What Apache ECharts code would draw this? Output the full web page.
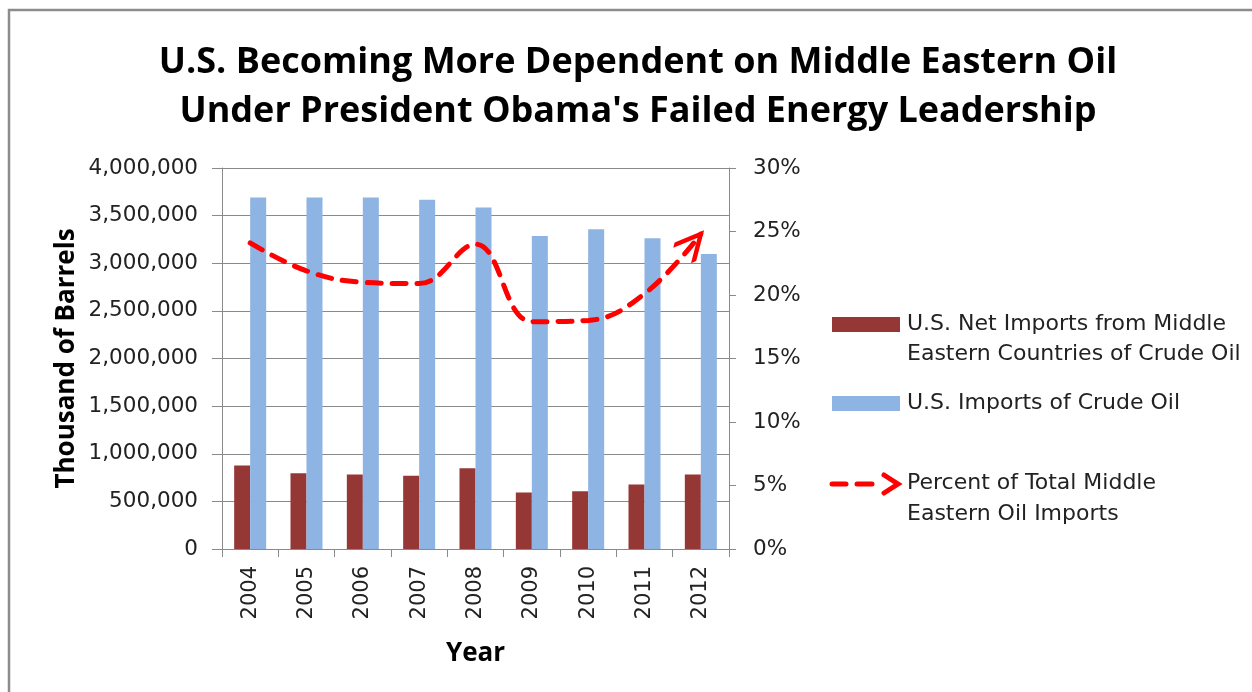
<!DOCTYPE html>
<html><head><meta charset="utf-8">
<script src="https://cdn.jsdelivr.net/npm/echarts@6/dist/echarts.min.js"></script>
<style>html,body{margin:0;padding:0;background:#fff}#c{width:1252px;height:692px}</style>
</head><body><div id="c"></div>
<script>
const years = ['2004','2005','2006','2007','2008','2009','2010','2011','2012'];
const netImportsMiddleEast = [877000, 796000, 782000, 768000, 849000, 593000, 606000, 677000, 782000];
const totalCrudeImports = [3690000, 3690000, 3690000, 3667000, 3585000, 3287000, 3358000, 3263000, 3098000];
const pctMiddleEast = [24.1, 21.9, 21.0, 20.9, 24.0, 17.9, 18.0, 20.1, 24.8];
const leftAxisRange = [0, 4000000, 500000];
const rightAxisRange = [0, 30, 5];
const seriesNames = [
  'U.S. Net Imports from Middle\nEastern Countries of Crude Oil',
  'U.S. Imports of Crude Oil',
  'Percent of Total Middle\nEastern Oil Imports'
];

const TICK_FONT = 'DejaVu Sans';
const BOLD_FONT = 'Open Sans';
const GRAY = '#8a8a8a';
const lastIdx = pctMiddleEast.length - 1;
const lineData = pctMiddleEast.map((v, i) => i === lastIdx ? {
  value: v,
  symbol: 'path://M0,0 L26,13 L0,26 M52,13 L52,13',
  symbolSize: [52, 26],
  symbolRotate: 49,
  itemStyle: { color: 'rgba(0,0,0,0)', borderColor: '#ff0000', borderWidth: 5 }
} : { value: v, symbol: 'none' });

const chart = echarts.init(document.getElementById('c'), null, { renderer: 'canvas' });
chart.setOption({
  backgroundColor: '#ffffff',
  animation: false,
  title: {
    text: 'U.S. Becoming More Dependent on Middle Eastern Oil\nUnder President Obama\'s Failed Energy Leadership',
    left: 633, top: 33, textAlign: 'center',
    textStyle: { fontFamily: BOLD_FONT, fontWeight: 'bold', fontSize: 36, lineHeight: 49, color: '#000' }
  },
  grid: { left: 222, right: 523, top: 168, bottom: 143, containLabel: false },
  xAxis: {
    type: 'category', data: years,
    name: 'Year', nameLocation: 'middle', nameGap: 92,
    nameTextStyle: { fontFamily: BOLD_FONT, fontWeight: 'bold', fontSize: 26, color: '#000' },
    axisLine: { lineStyle: { color: GRAY, width: 1 } },
    axisTick: { show: true, length: 8, lineStyle: { color: GRAY } },
    axisLabel: { rotate: 90, margin: 17, fontFamily: TICK_FONT, fontSize: 21, color: '#222' },
    splitLine: { show: false }
  },
  yAxis: [{
    type: 'value', min: leftAxisRange[0], max: leftAxisRange[1], interval: leftAxisRange[2],
    name: 'Thousand of Barrels', nameLocation: 'middle', nameGap: 142, nameRotate: 90,
    nameTextStyle: { fontFamily: BOLD_FONT, fontWeight: 'bold', fontSize: 26, color: '#000' },
    axisLine: { show: true, lineStyle: { color: GRAY } },
    axisTick: { show: true, length: 10, lineStyle: { color: GRAY } },
    axisLabel: { margin: 24, fontFamily: TICK_FONT, fontSize: 21.5, color: '#222',
      formatter: v => String(v).replace(/\B(?=(\d{3})+(?!\d))/g, ',') },
    splitLine: { show: true, lineStyle: { color: GRAY, width: 1 } }
  }, {
    type: 'value', min: rightAxisRange[0], max: rightAxisRange[1], interval: rightAxisRange[2],
    position: 'right',
    axisLine: { show: true, lineStyle: { color: GRAY } },
    axisTick: { show: true, length: 7, lineStyle: { color: GRAY } },
    axisLabel: { margin: 24, fontFamily: TICK_FONT, fontSize: 21.5, color: '#222', formatter: '{value}%' },
    splitLine: { show: false }
  }],
  series: [{
    name: seriesNames[0], type: 'bar', data: netImportsMiddleEast,
    barWidth: 16, barGap: '0%', itemStyle: { color: '#953735' }
  }, {
    name: seriesNames[1], type: 'bar', data: totalCrudeImports,
    barWidth: 16, barGap: '0%', itemStyle: { color: '#8eb4e3' }
  }, {
    name: seriesNames[2], type: 'line', yAxisIndex: 1, data: lineData,
    smooth: 0.4, z: 5,
    lineStyle: { color: '#ff0000', width: 5, type: [14, 11], cap: 'round' }
  }],
  graphic: [
    { type: 'rect', shape: { x: 9, y: 10, width: 1260, height: 700 }, style: { fill: 'none', stroke: '#8c8c8c', lineWidth: 2.5 }, silent: true },
    { type: 'rect', shape: { x: 832, y: 317, width: 68, height: 15 }, style: { fill: '#953735' } },
    { type: 'text', left: 907, top: 309, style: { text: seriesNames[0], font: '22px "DejaVu Sans"', fill: '#222', lineHeight: 30 } },
    { type: 'rect', shape: { x: 832, y: 396, width: 68, height: 15 }, style: { fill: '#8eb4e3' } },
    { type: 'text', left: 907, top: 388, style: { text: seriesNames[1], font: '22px "DejaVu Sans"', fill: '#222', lineHeight: 30 } },
    { type: 'polyline', shape: { points: [[832, 484], [846, 484]] }, style: { stroke: '#ff0000', lineWidth: 5, lineCap: 'round', fill: 'none' } },
    { type: 'polyline', shape: { points: [[857, 484], [872, 484]] }, style: { stroke: '#ff0000', lineWidth: 5, lineCap: 'round', fill: 'none' } },
    { type: 'polyline', shape: { points: [[884, 475], [898, 484], [884, 493]] }, style: { stroke: '#ff0000', lineWidth: 5, lineCap: 'round', lineJoin: 'miter', fill: 'none' } },
    { type: 'text', left: 907, top: 468, style: { text: seriesNames[2], font: '22px "DejaVu Sans"', fill: '#222', lineHeight: 31 } }
  ]
});
</script></body></html>
